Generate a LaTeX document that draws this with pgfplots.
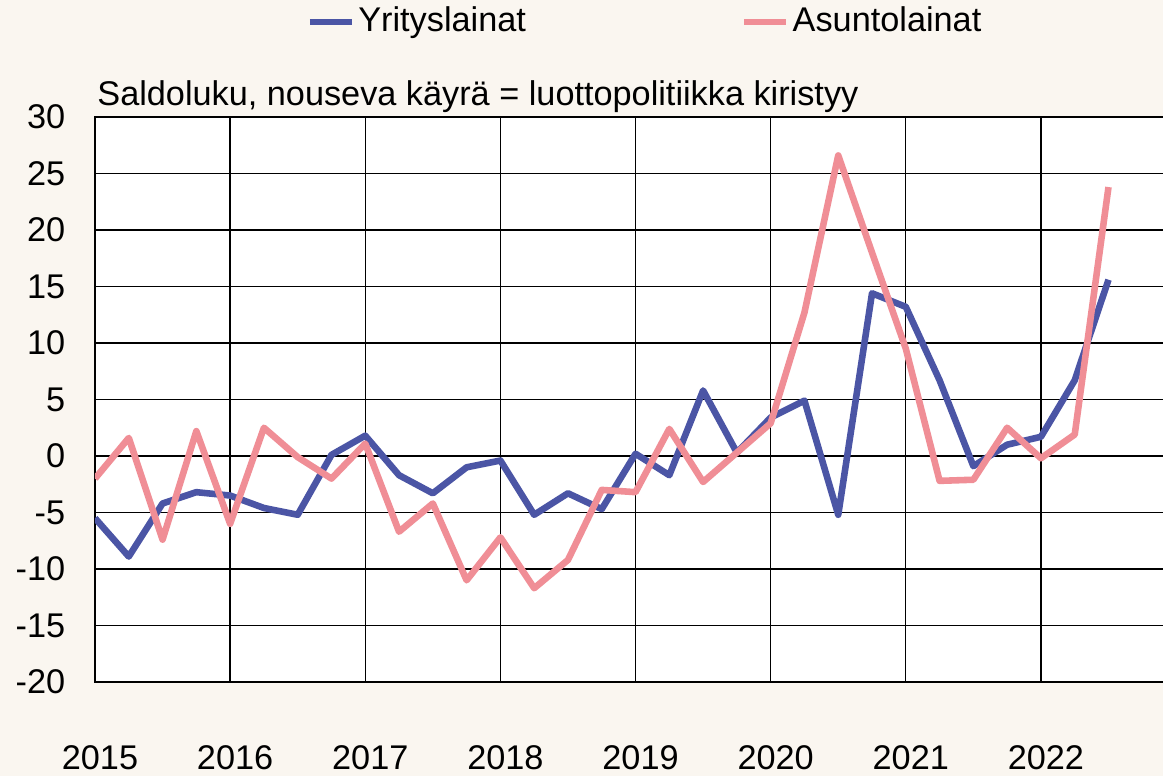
\documentclass[border=0pt]{standalone}
\usepackage{fontspec}
\setmainfont{Liberation Sans}
\usepackage{pgfplots}
\pgfplotsset{compat=1.18}
\definecolor{bgc}{RGB}{250,246,240}
\definecolor{blueline}{RGB}{75,85,165}
\definecolor{pinkline}{RGB}{240,142,150}
\begin{document}
\fontsize{17.2}{20}\selectfont
\begin{tikzpicture}
\path[fill=bgc,use as bounding box] (-47.5bp,-47bp) rectangle (534bp,341bp);
\begin{axis}[
  at={(0,0)}, anchor=south west,
  scale only axis,
  width=537.5bp, height=282.5bp,
  xmin=2015, xmax=2022.955,
  ymin=-20, ymax=30,
  ytick={-20,-15,...,30},
  xtick={2015,2016,...,2022},
  xticklabel style={/pgf/number format/1000 sep=, anchor=north, yshift=-26bp, xshift=2.5bp},
  yticklabel style={anchor=east, xshift=-9bp},
  /pgf/number format/assume math mode=true,
  tick style={draw=none},
  grid=major,
  major grid style={black, line width=0.65pt},
  axis line style={black, line width=1.1pt},
  axis background/.style={fill=white},
  every tick label/.append style={font=\fontsize{17.2}{20}\selectfont},
  legend columns=2,
  legend style={at={(0.5195,1)}, anchor=center, xshift=-4bp, yshift=47.5bp, draw=none, fill=none,
    font=\fontsize{17.2}{20}\selectfont, /tikz/every even column/.append style={column sep=106bp},
    inner sep=0pt, nodes={inner xsep=1.5bp}},
  legend image code/.code={\draw[line width=3.4pt] (0bp,0bp) -- (21bp,0bp);},
  clip mode=individual,
]
\addplot[blueline, line width=3.3pt, line join=round] coordinates {
(2015.00,-5.5) (2015.25,-8.9) (2015.50,-4.2) (2015.75,-3.2)
(2016.00,-3.5) (2016.25,-4.6) (2016.50,-5.2) (2016.75,0.1)
(2017.00,1.8) (2017.25,-1.7) (2017.50,-3.3) (2017.75,-1.0)
(2018.00,-0.4) (2018.25,-5.2) (2018.50,-3.3) (2018.75,-4.7)
(2019.00,0.2) (2019.25,-1.7) (2019.50,5.8) (2019.75,0.3)
(2020.00,3.4) (2020.25,4.9) (2020.50,-5.2) (2020.75,14.4)
(2021.00,13.2) (2021.25,6.7) (2021.50,-0.9) (2021.75,1.0)
(2022.00,1.7) (2022.25,6.7) (2022.50,15.6)
};
\addlegendentry{Yrityslainat}
\addplot[pinkline, line width=3.3pt, line join=round] coordinates {
(2015.00,-2.0) (2015.25,1.6) (2015.50,-7.4) (2015.75,2.2)
(2016.00,-6.0) (2016.25,2.5) (2016.50,-0.1) (2016.75,-2.0)
(2017.00,1.1) (2017.25,-6.7) (2017.50,-4.2) (2017.75,-11.0)
(2018.00,-7.2) (2018.25,-11.7) (2018.50,-9.2) (2018.75,-3.0)
(2019.00,-3.2) (2019.25,2.4) (2019.50,-2.3) (2019.75,0.3)
(2020.00,2.9) (2020.25,12.7) (2020.50,26.6) (2020.75,18.0)
(2021.00,9.5) (2021.25,-2.2) (2021.50,-2.1) (2021.75,2.5)
(2022.00,-0.2) (2022.25,1.9) (2022.50,23.8)
};
\addlegendentry{Asuntolainat}
\end{axis}
\node[anchor=base west, inner sep=0pt, font=\fontsize{17.2}{20}\selectfont] at (1bp,288bp) {Saldoluku, nouseva käyrä = luottopolitiikka kiristyy};
\end{tikzpicture}
\end{document}
